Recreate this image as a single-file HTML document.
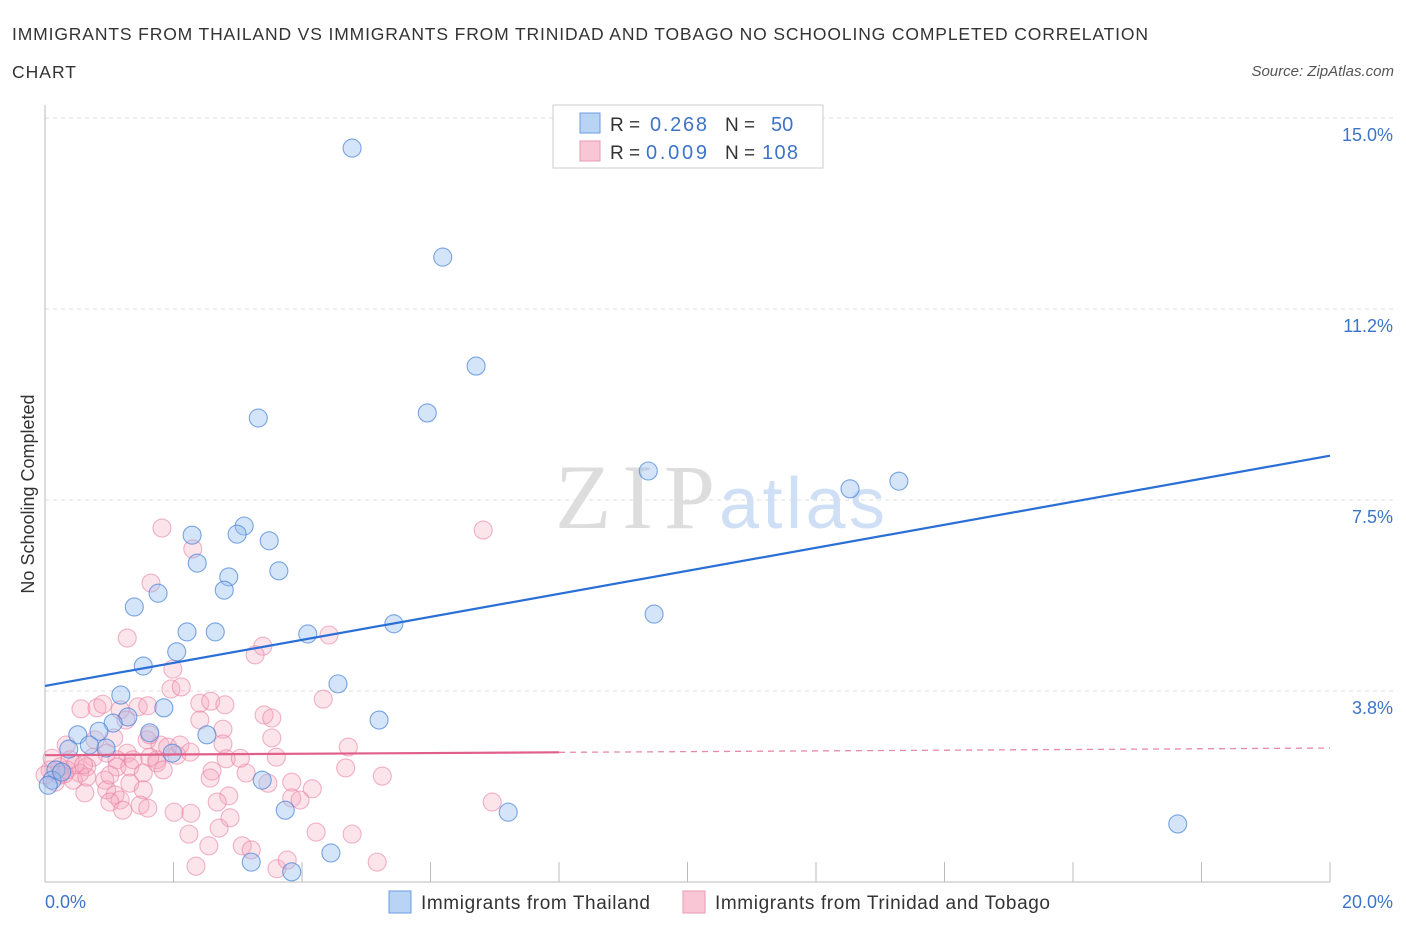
<!DOCTYPE html>
<html><head><meta charset="utf-8"><style>
body{margin:0;background:#fff;font-family:"Liberation Sans",sans-serif;}
svg text{font-family:"Liberation Sans",sans-serif;}
</style></head><body>
<svg width="1406" height="930" xmlns="http://www.w3.org/2000/svg">
<text x="12" y="40" font-size="17.5" fill="#333" textLength="1136" lengthAdjust="spacing">IMMIGRANTS FROM THAILAND VS IMMIGRANTS FROM TRINIDAD AND TOBAGO NO SCHOOLING COMPLETED CORRELATION</text>
<text x="12" y="78" font-size="17.5" fill="#333" textLength="64">CHART</text>
<text x="1394" y="76" font-size="15" fill="#555" font-style="italic" text-anchor="end">Source: ZipAtlas.com</text>
<text x="34" y="494" font-size="18" fill="#333" text-anchor="middle" transform="rotate(-90 34 494)">No Schooling Completed</text>
<g>
<text x="635" y="528" font-size="92" fill="#ddd" text-anchor="middle" textLength="160" style="font-family:'Liberation Serif',serif">ZIP</text>
<text x="802" y="528" font-size="72" fill="#cfdff5" text-anchor="middle" textLength="166">atlas</text>
</g>
<g id="grid"></g>
<g id="axes"></g>
<g id="pts"></g>
<g id="trend"></g>
<g>
<rect x="553" y="105" width="270" height="63" fill="#fff" stroke="#ccc"/>
<rect x="580" y="113" width="20" height="20" fill="#b9d3f5" stroke="#6a9be0"/>
<rect x="580" y="141" width="20" height="20" fill="#f9c6d5" stroke="#e99ab2"/>
<text x="610" y="131" font-size="19" fill="#333">R = </text><text x="650" y="131" font-size="20" fill="#3d74c9" textLength="57">0.268</text>
<text x="725" y="131" font-size="19" fill="#333">N = </text><text x="771" y="131" font-size="20" fill="#3d74c9">50</text>
<text x="610" y="159" font-size="19" fill="#333">R = </text><text x="646" y="159" font-size="20" fill="#3d74c9" textLength="61">0.009</text>
<text x="725" y="159" font-size="19" fill="#333">N = </text><text x="762" y="159" font-size="20" fill="#3d74c9" textLength="36">108</text>
</g>
<g>
<rect x="389" y="891" width="22" height="22" fill="#b9d3f5" stroke="#6a9be0"/>
<text x="421" y="909" font-size="19" fill="#333" textLength="229">Immigrants from Thailand</text>
<rect x="683" y="891" width="22" height="22" fill="#f9c6d5" stroke="#e99ab2"/>
<text x="715" y="909" font-size="19" fill="#333" textLength="335">Immigrants from Trinidad and Tobago</text>
</g>
</svg>
<script>
const blueX=[4.78,6.19,6.71,5.95,3.32,9.39,12.53,13.29,2.29,3.10,2.99,3.49,2.37,3.64,2.86,2.79,1.76,1.39,9.48,5.43,2.21,2.65,4.09,2.05,1.53,4.56,1.18,1.85,1.29,1.06,5.20,0.84,0.51,1.63,2.52,0.37,0.95,1.98,0.17,0.11,0.05,3.38,3.74,7.21,17.63,4.45,3.21,3.84,0.26,0.69];
const blueY=[14.41,12.27,10.13,9.21,9.11,8.07,7.72,7.87,6.81,6.99,6.83,6.70,6.26,6.11,5.99,5.73,5.67,5.40,5.26,5.07,4.91,4.91,4.87,4.52,4.24,3.89,3.67,3.42,3.24,3.12,3.18,2.96,2.89,2.93,2.89,2.61,2.63,2.53,2.20,2.00,1.90,2.00,1.41,1.37,1.14,0.57,0.39,0.20,2.16,2.69];
const pinkX=[1.82,2.30,1.65,1.28,1.99,1.96,2.12,2.41,2.58,3.39,3.27,4.42,4.33,3.41,3.53,3.53,4.72,3.60,2.77,2.77,2.82,2.60,3.13,3.47,3.84,4.16,4.68,5.25,3.84,2.86,2.68,2.88,2.71,2.27,2.01,2.24,2.55,3.07,3.21,4.22,4.78,2.35,3.61,3.77,5.17,0.56,0.81,0.90,1.45,1.60,1.17,1.07,1.26,1.59,1.79,1.91,2.05,1.74,1.28,1.12,0.96,0.75,0.65,0.54,0.44,0.34,0.23,0.65,0.93,1.12,1.32,1.37,1.53,1.32,0.96,0.62,1.09,1.53,1.17,1.01,1.21,1.48,1.60,1.74,1.84,6.82,6.96,0.23,0.08,0.16,0.47,0.33,0.78,0.00,1.63,2.10,2.26,2.57,3.04,2.41,2.80,3.97,1.63,1.01,0.39,0.11,0.30,0.60];
const pinkY=[6.95,6.54,5.87,4.79,4.18,3.79,3.83,3.51,3.55,4.63,4.46,4.85,3.59,3.28,3.22,2.83,2.65,2.45,3.00,2.71,2.42,2.18,2.14,1.94,1.96,1.83,2.24,2.08,1.65,1.69,1.57,1.26,1.06,1.35,1.37,0.94,0.71,0.71,0.63,0.98,0.94,0.31,0.26,0.43,0.39,3.40,3.42,3.49,3.44,3.46,3.38,2.83,3.18,2.79,2.69,2.65,2.49,2.40,2.53,2.40,2.53,2.45,2.26,2.14,2.00,2.20,2.26,2.06,2.00,2.26,2.26,2.40,2.14,1.94,1.81,1.75,1.71,1.81,1.61,1.57,1.41,1.51,1.45,2.34,2.20,6.91,1.57,2.10,2.20,1.96,2.30,2.69,2.79,2.10,2.45,2.69,2.55,2.04,2.43,3.18,3.48,1.61,2.89,2.10,2.40,2.43,2.12,2.30];
const yTicks=[3.75,7.5,11.25,15];
const yTickLabels=["3.8%","7.5%","11.2%","15.0%"];
const blueTrend=[3.85,8.37];
const pinkTrend=[2.49,2.63];
const X0=45,X1=1330,Y0=882,PPY=50.93;
const sx=v=>X0+(v/20)*(X1-X0);
const sy=v=>Y0-v*PPY;
const NS="http://www.w3.org/2000/svg";
function mk(tag,attrs,parent){const e=document.createElementNS(NS,tag);for(const k in attrs)e.setAttribute(k,attrs[k]);parent.appendChild(e);return e;}
const grid=document.getElementById('grid'),axes=document.getElementById('axes'),pts=document.getElementById('pts'),tr=document.getElementById('trend');
yTicks.forEach((t,i)=>{
 const l=mk('line',{x1:X0,x2:1395,y1:sy(t),y2:sy(t),stroke:'#ddd','stroke-dasharray':'4,4'},grid);
 
 
 const tx=mk('text',{x:1393,y:sy(t)+23,'font-size':18,fill:'#3d74c9','text-anchor':'end'},grid);
 tx.textContent=yTickLabels[i];
 
 
});
let ax=mk('line',{x1:X0,x2:X0,y1:105,y2:Y0,stroke:'#bbb'},axes);


ax=mk('line',{x1:X0,x2:X1,y1:Y0,y2:Y0,stroke:'#bbb'},axes);


for(let i=1;i<=10;i++){
 const t=mk('line',{x1:sx(i*2),x2:sx(i*2),y1:Y0-20,y2:Y0,stroke:'#bbb'},axes);
 
 
}
let xl=mk('text',{x:45,y:908,'font-size':18,fill:'#3d74c9'},axes);xl.textContent='0.0%';


xl=mk('text',{x:1393,y:908,'font-size':18,fill:'#3d74c9','text-anchor':'end'},axes);xl.textContent='20.0%';


pinkX.forEach((x,i)=>{
 const c=mk('circle',{cx:sx(x),cy:sy(pinkY[i]),r:9,fill:'rgba(244,165,190,0.3)',stroke:'rgba(232,130,165,0.6)','stroke-width':1.1},pts);
 
 
});
blueX.forEach((x,i)=>{
 const c=mk('circle',{cx:sx(x),cy:sy(blueY[i]),r:9,fill:'rgba(150,190,240,0.4)',stroke:'rgba(70,130,215,0.7)','stroke-width':1.1},pts);
 
 
});
let ln=mk('line',{x1:sx(0),y1:sy(blueTrend[0]),x2:sx(20),y2:sy(blueTrend[1]),stroke:'#2a6fd6','stroke-width':2.2},tr);


const pm=pinkTrend[0]+(pinkTrend[1]-pinkTrend[0])*(8/20);
ln=mk('line',{x1:sx(0),y1:sy(pinkTrend[0]),x2:sx(8),y2:sy(pm),stroke:'#e0608a','stroke-width':2.2},tr);


ln=mk('line',{x1:sx(8),y1:sy(pm),x2:sx(20),y2:sy(pinkTrend[1]),stroke:'#e88aa6','stroke-width':1.3,'stroke-dasharray':'6,5'},tr);


</script>
</body></html>
